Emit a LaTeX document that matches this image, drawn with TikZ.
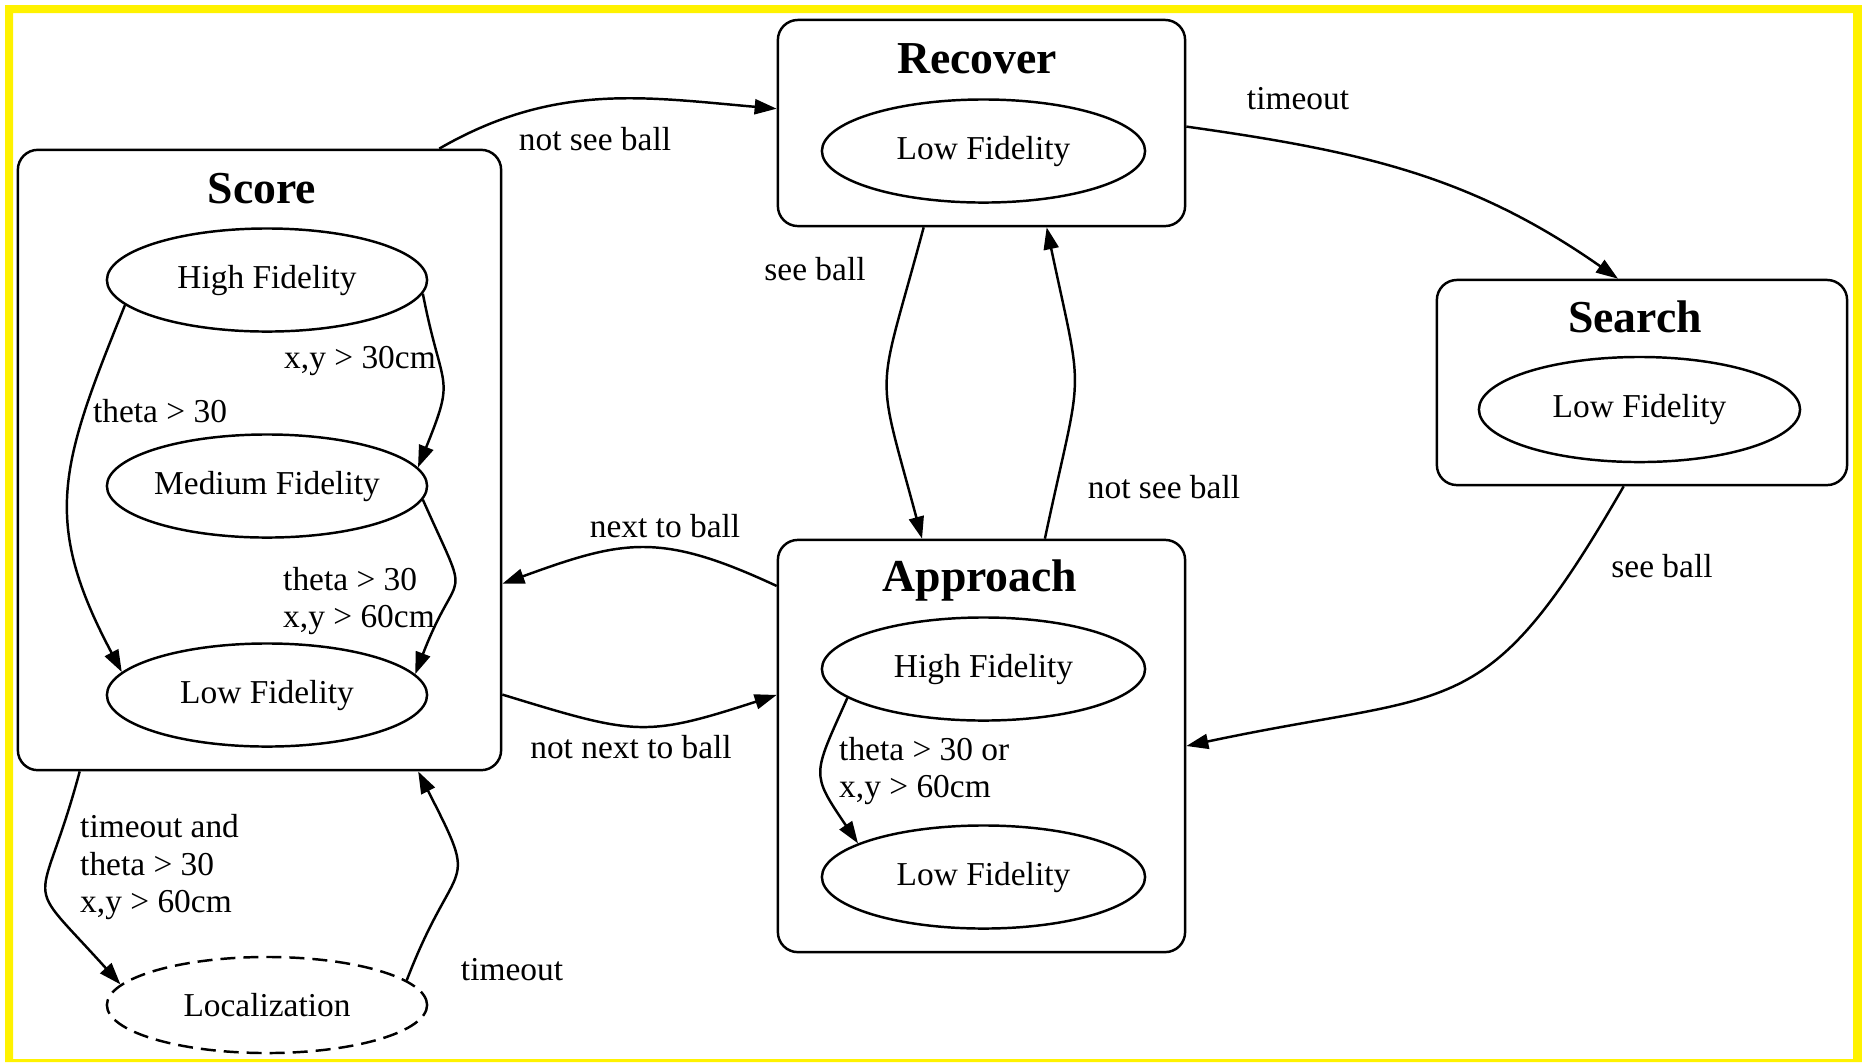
\documentclass[tikz,border=0pt]{standalone}
\usepackage{fontspec}
\setmainfont{Liberation Serif}
\usetikzlibrary{shapes.geometric,arrows.meta}
\newcommand\lblfont{\fontsize{9.5}{10.8}\selectfont}
\newcommand\ttlfont{\fontsize{13}{15}\selectfont\bfseries}
\begin{document}
\begin{tikzpicture}[x=0.01cm,y=-0.01cm,line width=0.7pt,
  box/.style={draw,rounded corners=0.2cm,inner sep=0pt},
  fid/.style={draw,ellipse,inner sep=0pt,minimum width=3.2cm,minimum height=1.03cm,font=\lblfont},
  boxtitle/.style={font=\ttlfont,anchor=base},
  lbl/.style={font=\lblfont,inner sep=0pt,anchor=base},
  mlbl/.style={font=\lblfont,inner sep=0pt,anchor=west,align=left},
  trans/.style={-{Triangle[length=0.22cm,width=0.15cm]}}]
\fill[white](0,0)rectangle(1862,1062);
\fill[yellow,even odd rule](5,5)rectangle(1862,1062)(13,13)rectangle(1853,1059);
\node[box,minimum width=4.83cm,minimum height=6.2cm](score)at(259.5,460){};
\node[boxtitle](scoret)at(262,203){Score};
\node[fid](shigh)at(267,280){High Fidelity};
\node[fid](smed)at(267,486){Medium Fidelity};
\node[fid](slow)at(267,695){Low Fidelity};
\node[fid,minimum height=0.96cm,dash pattern=on 0.15cm off 0.08cm](loc)at(267,1005){Localization};
\node[box,minimum width=4.07cm,minimum height=2.06cm](recover)at(981.5,123){};
\node[boxtitle](recovert)at(977,73){Recover};
\node[fid,minimum width=3.23cm](rlow)at(983.5,151){Low Fidelity};
\node[box,minimum width=4.1cm,minimum height=2.05cm](search)at(1642,382.5){};
\node[boxtitle](searcht)at(1635,332){Search};
\node[fid,minimum width=3.21cm,minimum height=1.05cm](slowf)at(1639.5,409.5){Low Fidelity};
\node[box,minimum width=4.07cm,minimum height=4.12cm](approach)at(981.5,746){};
\node[boxtitle](approacht)at(980,591){Approach};
\node[fid,minimum width=3.23cm](ahigh)at(983.5,669){High Fidelity};
\node[fid,minimum width=3.23cm](alow)at(983.5,877){Low Fidelity};
\draw[trans](score.60.6)to[out=30,in=175](recover.176.6);
\node[lbl](notsee1)at(595,150){not see ball};
\draw[trans](recover.-1)to[out=-8,in=145](search.103.7);
\node[lbl](timeout1)at(1298,109){timeout};
\draw[trans](recover.-119.6)to[out=-105,in=105,looseness=1.5](approach.106.1);
\node[lbl](see1)at(815,280){see ball};
\draw[trans](approach.73.6)to[out=78,in=-78,looseness=1.5](recover.-58.8);
\node[lbl](notsee2)at(1164,498){not see ball};
\draw[trans](approach.142.5)to[out=155,in=20,looseness=1.2](score.-27.7);
\node[lbl](next)at(665,537){next to ball};
\draw[trans](score.-44.2)to[out=-17,in=198,looseness=1.3](approach.166);
\node[lbl](notnext)at(631,758){not next to ball};
\draw[trans](search.-100)to[out=-120,in=12,looseness=1.4](approach.east);
\node[lbl](see2)at(1662,577){see ball};
\draw[trans](shigh.-5)to[out=-79,in=68,looseness=1.5](smed.7);
\node[lbl](xy30)at(360,368){x,y > 30cm};
\draw[trans](shigh.190.5)to[out=-112,in=118,looseness=1.2](slow.171);
\node[lbl](th30)at(160,422){theta > 30};
\draw[trans](smed.-5.8)to[out=-66,in=69,looseness=1.8](slow.8);
\node[mlbl](thxy)at(282,601){theta > 30\\x,y > 60cm};
\draw[trans](score.-120.8)to[out=-105,in=132,looseness=1.8](loc.172);
\node[mlbl](tothxy)at(79,867){timeout and\\theta > 30\\x,y > 60cm};
\draw[trans](loc.10)to[out=69,in=-63,looseness=1.7](score.-63);
\node[lbl](timeout2)at(512,980){timeout};
\draw[trans](ahigh.192.4)to[out=-114,in=124,looseness=1.5](alow.165.6);
\node[mlbl](thorxy)at(838,771){theta > 30 or\\x,y > 60cm};
\end{tikzpicture}
\end{document}
